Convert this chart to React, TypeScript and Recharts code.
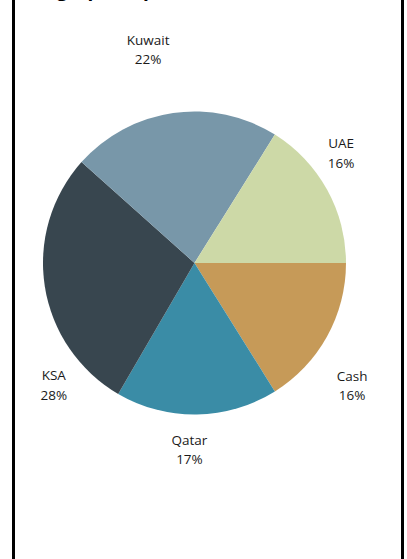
import React from 'react';
import { PieChart, Pie, Cell } from 'recharts';

const regions = ['Cash', 'Qatar', 'KSA', 'Kuwait', 'UAE'];
const shares = [16.1, 17.3, 28.2, 22.3, 16.1];
const colors = ['#C69A58', '#3A8CA6', '#38464F', '#7897A9', '#CDD9A7'];

const data = regions.map((name, i) => ({ name, value: shares[i] }));

const RADIAN = Math.PI / 180;

// manual nudges, like labels dragged around in the original
const labelNudge: Record<string, [number, number]> = {
  Cash: [-6, 32],
  Qatar: [-8, 0],
  KSA: [44, 93],
  Kuwait: [-20, -28],
  UAE: [-17, -19],
};

const renderLabel = (props: any) => {
  const { cx, cy, midAngle, outerRadius, name, percent } = props;
  const r = outerRadius + 35.5;
  const [dx, dy] = labelNudge[name] || [0, 0];
  const x = cx + r * Math.cos(-midAngle * RADIAN) + dx;
  const y = cy + r * Math.sin(-midAngle * RADIAN) + dy;
  return (
    <text
      x={x}
      y={y}
      textAnchor="middle"
      fill="#1a1a1a"
      fontSize={13.5}
      fontFamily="'Open Sans', sans-serif"
    >
      <tspan x={x} dy={-5}>{name}</tspan>
      <tspan x={x} dy={19.5}>{`${Math.round(percent * 100)}%`}</tspan>
    </text>
  );
};

export default function App() {
  return (
    <div
      style={{
        position: 'absolute',
        left: 0,
        top: 0,
        width: 407,
        height: 559,
        overflow: 'hidden',
        background: '#fff',
      }}
    >
      <div style={{ position: 'absolute', left: 12, top: 0, width: 3, height: 559, background: '#000' }} />
      <div style={{ position: 'absolute', left: 401, top: 0, width: 3, height: 559, background: '#000' }} />
      <div
        style={{
          position: 'absolute',
          left: 20,
          top: -24,
          fontFamily: "'Open Sans', sans-serif",
          fontWeight: 700,
          fontSize: 19,
          color: '#000',
          whiteSpace: 'nowrap',
        }}
      >
        Geographic Split
      </div>
      <PieChart width={407} height={559} margin={{ top: 0, right: 0, bottom: 0, left: 0 }}>
        <Pie
          data={data}
          dataKey="value"
          nameKey="name"
          cx={194.5}
          cy={263}
          outerRadius={151.5}
          startAngle={0}
          endAngle={-360}
          stroke="none"
          label={renderLabel}
          labelLine={false}
          isAnimationActive={false}
        >
          {data.map((d, i) => (
            <Cell key={d.name} fill={colors[i]} />
          ))}
        </Pie>
      </PieChart>
    </div>
  );
}
